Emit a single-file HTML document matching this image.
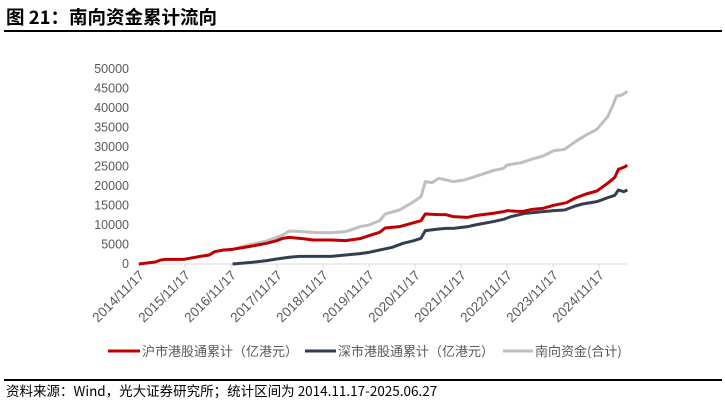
<!DOCTYPE html>
<html><head><meta charset="utf-8"><style>
body{margin:0;width:725px;height:410px;background:#fff;position:relative;overflow:hidden;font-family:"Liberation Sans","Noto Sans CJK SC",sans-serif}
.t{position:absolute;left:6px;top:4px;font-size:18.5px;font-weight:bold;color:#000;font-family:"Noto Sans CJK SC",sans-serif}
.ln{position:absolute;left:4px;right:3px;height:1.5px;background:#000}
.src{position:absolute;left:6px;top:380px;font-size:13.5px;color:#000;font-family:"Noto Sans CJK SC",sans-serif}
</style></head><body>
<div class="t">图 21：南向资金累计流向</div>
<div class="ln" style="top:30px"></div>
<svg width="725" height="410" style="position:absolute;left:0;top:0" font-family="Liberation Sans, Noto Sans CJK SC, sans-serif">
<g fill="#595959" font-size="12.5" text-anchor="end">
<text x="129" y="73">50000</text><text x="129" y="92.5">45000</text><text x="129" y="112">40000</text><text x="129" y="131.5">35000</text><text x="129" y="151">30000</text><text x="129" y="170.5">25000</text><text x="129" y="190">20000</text><text x="129" y="209.5">15000</text><text x="129" y="229">10000</text><text x="129" y="248.5">5000</text><text x="129" y="268">0</text>
</g>
<line x1="139" y1="264" x2="627" y2="264" stroke="#d9d9d9" stroke-width="1"/>
<g stroke="#d9d9d9"><line x1="139" y1="264" x2="139" y2="268"/><line x1="185" y1="264" x2="185" y2="268"/><line x1="231" y1="264" x2="231" y2="268"/><line x1="277" y1="264" x2="277" y2="268"/><line x1="323" y1="264" x2="323" y2="268"/><line x1="369" y1="264" x2="369" y2="268"/><line x1="415" y1="264" x2="415" y2="268"/><line x1="461" y1="264" x2="461" y2="268"/><line x1="507" y1="264" x2="507" y2="268"/><line x1="553" y1="264" x2="553" y2="268"/><line x1="599" y1="264" x2="599" y2="268"/></g>
<g fill="#595959" font-size="13.5" text-anchor="end">
<text transform="translate(145,276) rotate(-45)">2014/11/17</text>
<text transform="translate(191,276) rotate(-45)">2015/11/17</text>
<text transform="translate(237,276) rotate(-45)">2016/11/17</text>
<text transform="translate(283,276) rotate(-45)">2017/11/17</text>
<text transform="translate(329,276) rotate(-45)">2018/11/17</text>
<text transform="translate(375,276) rotate(-45)">2019/11/17</text>
<text transform="translate(421,276) rotate(-45)">2020/11/17</text>
<text transform="translate(467,276) rotate(-45)">2021/11/17</text>
<text transform="translate(513,276) rotate(-45)">2022/11/17</text>
<text transform="translate(559,276) rotate(-45)">2023/11/17</text>
<text transform="translate(605,276) rotate(-45)">2024/11/17</text>
</g>
<g transform="translate(80,50) scale(0.35894,0.33333)" fill="none" stroke-linejoin="round">
<polyline vector-effect="non-scaling-stroke" stroke="#bfbfbf" stroke-width="3" points="425,598 470,585 520,573 548,562 565,555 583,543 620,545 660,548 700,548 740,545 780,530 805,525 835,512 850,492 890,480 930,455 950,440 962,395 980,398 1000,385 1040,395 1070,390 1100,380 1150,362 1180,355 1190,345 1230,338 1260,327 1290,318 1320,302 1350,298 1380,275 1410,255 1440,238 1470,200 1485,165 1495,138 1510,135 1525,124"/>
<polyline vector-effect="non-scaling-stroke" stroke="#333f50" stroke-width="3" points="425,642 470,638 520,632 548,627 580,622 610,619 700,619 740,615 780,611 805,607 835,600 870,592 900,580 930,572 950,565 962,542 1000,537 1020,535 1040,535 1080,530 1100,525 1150,515 1180,508 1200,500 1240,490 1290,485 1320,482 1350,480 1380,468 1400,462 1440,455 1470,443 1490,436 1500,420 1515,425 1525,420"/>
<polyline vector-effect="non-scaling-stroke" stroke="#c00000" stroke-width="3" points="164,642 210,636 225,630 240,628 290,628 330,620 360,615 375,605 400,600 425,598 470,590 520,580 548,572 565,565 583,562 620,566 650,570 700,570 740,572 780,566 805,557 835,547 850,534 890,530 930,518 950,512 962,492 1000,494 1020,494 1040,500 1080,502 1100,497 1150,490 1180,485 1190,482 1230,485 1260,478 1290,475 1320,466 1355,458 1380,444 1410,432 1440,423 1470,400 1490,382 1500,358 1515,352 1525,346"/>
</g>
<g font-size="13" fill="#595959" font-family="Noto Sans CJK SC, sans-serif">
<line x1="108" y1="351" x2="140" y2="351" stroke="#c00000" stroke-width="3"/><text x="142" y="356">沪市港股通累计（亿港元）</text>
<line x1="305" y1="351" x2="336" y2="351" stroke="#333f50" stroke-width="3"/><text x="338" y="356">深市港股通累计（亿港元）</text>
<line x1="503" y1="351" x2="533" y2="351" stroke="#bfbfbf" stroke-width="3"/><text x="535" y="356">南向资金(合计)</text>
</g>
</svg>
<div class="ln" style="top:379px"></div>
<div class="src">资料来源：Wind，光大证券研究所；统计区间为 2014.11.17-2025.06.27</div>
</body></html>
